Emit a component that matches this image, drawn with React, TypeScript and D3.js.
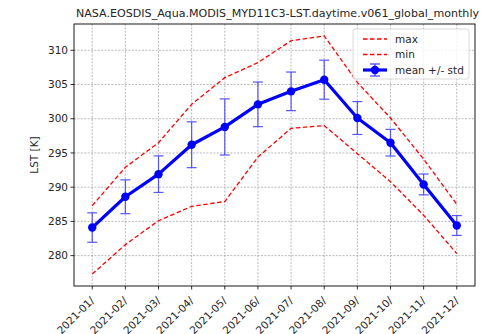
import React from "react";
import * as d3 from "d3";

const months = ["2021-01/", "2021-02/", "2021-03/", "2021-04/", "2021-05/", "2021-06/", "2021-07/", "2021-08/", "2021-09/", "2021-10/", "2021-11/", "2021-12/"];
const meanVals = [284.1, 288.6, 291.9, 296.2, 298.8, 302.1, 304.0, 305.7, 300.1, 296.5, 290.4, 284.4];
const stdVals = [2.15, 2.47, 2.67, 3.35, 4.1, 3.26, 2.82, 2.85, 2.4, 1.95, 1.52, 1.45];
const maxVals = [287.3, 292.9, 296.5, 302.1, 306.0, 308.2, 311.4, 312.1, 305.3, 300.1, 294.1, 287.5];
const minVals = [277.3, 281.6, 285.1, 287.2, 287.9, 294.4, 298.6, 299.0, 294.9, 290.8, 285.9, 280.3];
const yTicks = [280, 285, 290, 295, 300, 305, 310];
const title = "NASA.EOSDIS_Aqua.MODIS_MYD11C3-LST.daytime.v061_global_monthly";
const yLabel = "LST [K]";
const legendLabels = ["max", "min", "mean +/- std"];

export default function App() {
  const W = 487, H = 334;
  const L = 74, R = 475, T = 24, B = 286;
  const n = months.length;
  const x = d3.scaleLinear().domain([-0.55, n - 1 + 0.55]).range([L, R]);
  const all = [...maxVals, ...minVals, ...meanVals.map((m, i) => m + stdVals[i]), ...meanVals.map((m, i) => m - stdVals[i])];
  const lo = d3.min(all)!, hi = d3.max(all)!;
  const pad = (hi - lo) * 0.05;
  const y = d3.scaleLinear().domain([lo - pad, hi + pad]).range([B, T]);
  const line = d3.line<number>().x((_, i) => x(i)).y((v) => y(v));
  const font = "DejaVu Sans, sans-serif";
  const txt = "#262626";
  return (
    <svg width={W} height={H} style={{ position: "absolute", left: 0, top: 0 }} fontFamily={font}>
      <rect x={0} y={0} width={W} height={H} fill="#fff" />
      {/* grid */}
      <g stroke="#8c8c8c" strokeWidth={0.6} strokeDasharray="2,1.4">
        {months.map((_, i) => (
          <line key={"gx" + i} x1={x(i)} x2={x(i)} y1={T} y2={B} />
        ))}
        {yTicks.map((t) => (
          <line key={"gy" + t} x1={L} x2={R} y1={y(t)} y2={y(t)} />
        ))}
      </g>
      {/* max/min */}
      <path d={line(maxVals)!} fill="none" stroke="#ff0000" strokeWidth={1.3} strokeDasharray="4.5,2.5" />
      <path d={line(minVals)!} fill="none" stroke="#ff0000" strokeWidth={1.3} strokeDasharray="4.5,2.5" />
      {/* error bars */}
      <g stroke="#3a3aff" strokeWidth={1.2} opacity={0.85}>
        {meanVals.map((m, i) => (
          <g key={"e" + i}>
            <line x1={x(i)} x2={x(i)} y1={y(m - stdVals[i])} y2={y(m + stdVals[i])} />
            <line x1={x(i) - 5} x2={x(i) + 5} y1={y(m - stdVals[i])} y2={y(m - stdVals[i])} />
            <line x1={x(i) - 5} x2={x(i) + 5} y1={y(m + stdVals[i])} y2={y(m + stdVals[i])} />
          </g>
        ))}
      </g>
      <path d={line(meanVals)!} fill="none" stroke="#0000ff" strokeWidth={3.2} strokeLinejoin="round" />
      {meanVals.map((m, i) => (
        <circle key={"c" + i} cx={x(i)} cy={y(m)} r={4.2} fill="#0000ff" />
      ))}
      {/* axes frame */}
      <rect x={L} y={T} width={R - L} height={B - T} fill="none" stroke="#000" strokeWidth={0.9} />
      {/* y ticks */}
      {yTicks.map((t) => (
        <g key={"yt" + t}>
          <line x1={L - 3.5} x2={L} y1={y(t)} y2={y(t)} stroke="#000" strokeWidth={0.8} />
          <text x={L - 6} y={y(t)} dy="0.35em" textAnchor="end" fontSize={10.5} fill={txt}>{t}</text>
        </g>
      ))}
      {/* x ticks */}
      {months.map((m, i) => (
        <g key={"xt" + i}>
          <line x1={x(i)} x2={x(i)} y1={B} y2={B + 3.5} stroke="#000" strokeWidth={0.8} />
          <text transform={`translate(${x(i) - 2.5},${B + 10}) rotate(-45)`} textAnchor="end" dy="0.7em" fontSize={10.5} fill={txt}>{m}</text>
        </g>
      ))}
      <text x={(L + R) / 2 + 3} y={T - 7} textAnchor="middle" fontSize={11.1} fill={txt}>{title}</text>
      <text transform={`translate(${L - 36},${(T + B) / 2}) rotate(-90)`} textAnchor="middle" fontSize={10.5} fill={txt}>{yLabel}</text>
      {/* legend */}
      <g>
        <rect x={353} y={29} width={116} height={50} rx={2} fill="#fff" fillOpacity={0.8} stroke="#d0d0d0" strokeWidth={0.8} />
        <line x1={363} x2={387} y1={39} y2={39} stroke="#ff0000" strokeWidth={1.3} strokeDasharray="4.5,2.5" />
        <line x1={363} x2={387} y1={54.5} y2={54.5} stroke="#ff0000" strokeWidth={1.3} strokeDasharray="4.5,2.5" />
        <line x1={363} x2={387} y1={70} y2={70} stroke="#0000ff" strokeWidth={3.2} />
        <line x1={375} x2={375} y1={64} y2={76} stroke="#3a3aff" strokeWidth={1.2} />
        <line x1={370} x2={380} y1={64} y2={64} stroke="#3a3aff" strokeWidth={1.2} />
        <line x1={370} x2={380} y1={76} y2={76} stroke="#3a3aff" strokeWidth={1.2} />
        <circle cx={375} cy={70} r={4.2} fill="#0000ff" />
        {legendLabels.map((l, i) => (
          <text key={l} x={395} y={39 + i * 15.5} dy="0.35em" fontSize={10.5} fill={txt}>{l}</text>
        ))}
      </g>
    </svg>
  );
}
